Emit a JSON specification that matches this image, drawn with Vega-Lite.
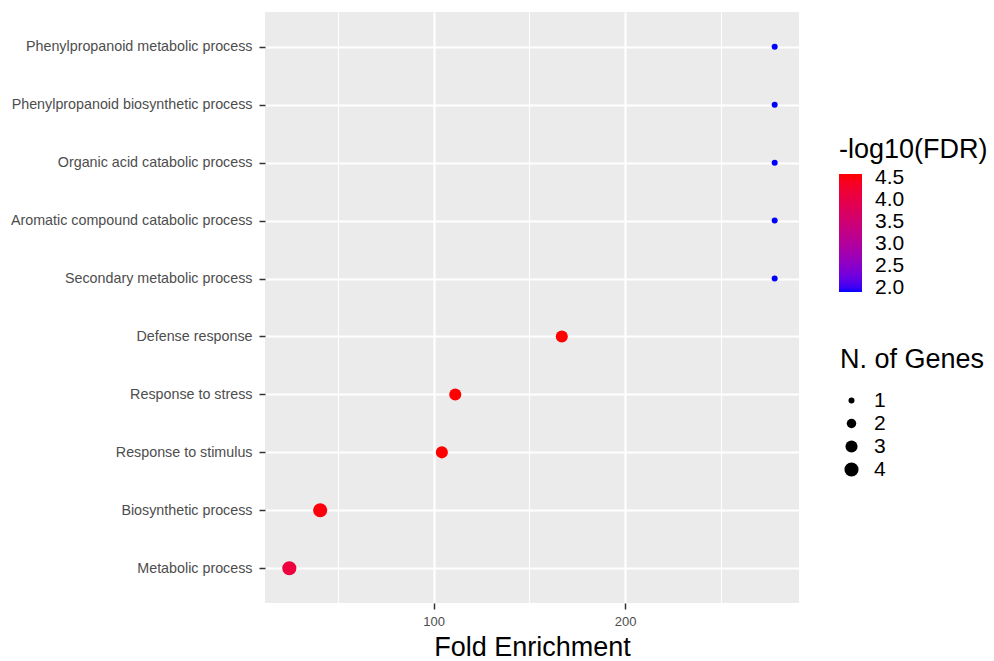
{
  "$schema": "https://vega.github.io/schema/vega-lite/v6.json",
  "width": 534,
  "height": 591,
  "autosize": {"type": "none"},
  "padding": {"left": 265, "top": 12, "right": 195, "bottom": 58},
  "background": "white",
  "config": {
    "view": {"fill": "#EBEBEB", "stroke": null},
    "font": "Liberation Sans"
  },
  "data": {
    "values": [
      {"term": "Phenylpropanoid metabolic process", "fold": 278.0, "logfdr": 1.9, "genes": 1},
      {"term": "Phenylpropanoid biosynthetic process", "fold": 278.0, "logfdr": 1.9, "genes": 1},
      {"term": "Organic acid catabolic process", "fold": 278.0, "logfdr": 1.9, "genes": 1},
      {"term": "Aromatic compound catabolic process", "fold": 278.0, "logfdr": 1.9, "genes": 1},
      {"term": "Secondary metabolic process", "fold": 278.0, "logfdr": 1.9, "genes": 1},
      {"term": "Defense response", "fold": 166.9, "logfdr": 4.6, "genes": 3},
      {"term": "Response to stress", "fold": 111.3, "logfdr": 4.6, "genes": 3},
      {"term": "Response to stimulus", "fold": 104.3, "logfdr": 4.6, "genes": 3},
      {"term": "Biosynthetic process", "fold": 40.8, "logfdr": 4.55, "genes": 4},
      {"term": "Metabolic process", "fold": 24.7, "logfdr": 4.15, "genes": 4}
    ]
  },
  "mark": {"type": "circle", "opacity": 1, "strokeWidth": 0},
  "encoding": {
    "y": {
      "field": "term",
      "type": "nominal",
      "sort": null,
      "scale": {"type": "point", "padding": 0.6},
      "axis": {
        "title": null,
        "grid": true,
        "labelFontSize": 14.3,
        "labelColor": "#4D4D4D",
        "labelLimit": 400,
        "tickColor": "#333333",
        "tickSize": 6,
        "tickWidth": 1.5,
        "labelPadding": 7,
        "domain": false,
        "gridColor": "white",
        "gridWidth": 2.2
      }
    },
    "x": {
      "field": "fold",
      "type": "quantitative",
      "scale": {"domain": [12.0, 290.7], "nice": false, "zero": false},
      "axis": {
        "title": "Fold Enrichment",
        "grid": true,
        "titleFontSize": 27,
        "titleFontWeight": "normal",
        "titleColor": "black",
        "titlePadding": 6,
        "values": [50, 100, 150, 200, 250],
        "labelExpr": "datum.value % 100 === 0 ? datum.label : ''",
        "labelFontSize": 13,
        "labelColor": "#4D4D4D",
        "labelPadding": 6,
        "tickSize": 6,
        "tickWidth": 1.5,
        "tickColor": {"condition": {"test": "datum.value % 100 === 0", "value": "#333333"}, "value": "transparent"},
        "domain": false,
        "gridColor": "white",
        "gridWidth": {"condition": {"test": "datum.value % 100 === 0", "value": 2.2}, "value": 1.1}
      }
    },
    "color": {
      "field": "logfdr",
      "type": "quantitative",
      "scale": {"domain": [1.9, 4.6], "range": ["blue", "red"], "interpolate": "lab"},
      "legend": {
        "title": "-log10(FDR)",
        "orient": "none",
        "legendX": 574,
        "legendY": 125,
        "direction": "vertical",
        "gradientLength": 118,
        "gradientThickness": 23,
        "gradientStrokeWidth": 0,
        "values": [2, 2.5, 3, 3.5, 4, 4.5],
        "format": ".1f",
        "labelOverlap": false,
        "titleFontSize": 27,
        "titleFontWeight": "normal",
        "titleColor": "black",
        "titleLimit": 300,
        "titlePadding": 10,
        "labelFontSize": 21,
        "labelColor": "black",
        "labelOffset": 13
      }
    },
    "size": {
      "field": "genes",
      "type": "quantitative",
      "scale": {"domain": [1, 4], "range": [36, 200], "zero": false},
      "legend": {
        "title": "N. of Genes",
        "orient": "none",
        "legendX": 575,
        "legendY": 335,
        "values": [1, 2, 3, 4],
        "format": "d",
        "symbolType": "circle",
        "symbolFillColor": "black",
        "symbolStrokeWidth": 0,
        "symbolOpacity": 1,
        "symbolOffset": 1,
        "rowPadding": 1,
        "titleFontSize": 27,
        "titleFontWeight": "normal",
        "titleColor": "black",
        "titleLimit": 300,
        "titlePadding": 16,
        "labelFontSize": 21,
        "labelColor": "black",
        "labelOffset": 12
      }
    }
  }
}
